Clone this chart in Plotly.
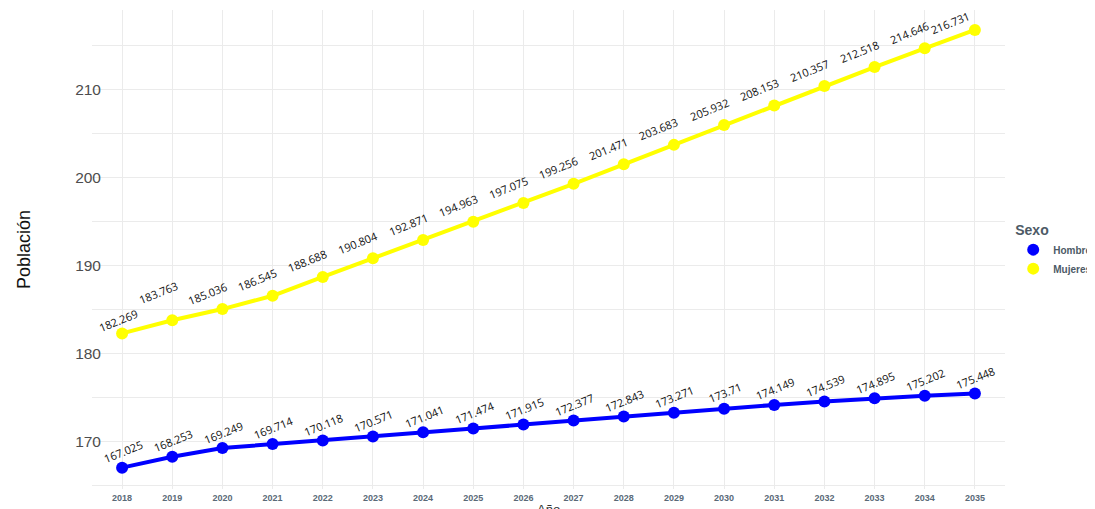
import plotly.graph_objects as go

years = list(range(2018, 2036))
hombres = [167.025, 168.253, 169.249, 169.714, 170.118, 170.571, 171.041, 171.474, 171.915,
           172.377, 172.843, 173.271, 173.71, 174.149, 174.539, 174.895, 175.202, 175.448]
mujeres = [182.269, 183.763, 185.036, 186.545, 188.688, 190.804, 192.871, 194.963, 197.075,
           199.256, 201.471, 203.683, 205.932, 208.153, 210.357, 212.518, 214.646, 216.731]
series = [("Hombres", hombres, "#0000FF"), ("Mujeres", mujeres, "#FFFF00")]
# label nudges (px) per series, like a repel layout
nudge = {"Hombres": (1, 16), "Mujeres": (-15, 16)}

fig = go.Figure()
annotations = []
for name, vals, col in series:
    fig.add_trace(go.Scatter(
        x=years, y=vals, name=name, mode="lines+markers",
        line=dict(color=col, width=4),
        marker=dict(color=col, size=12),
        showlegend=False,
    ))
    dx, dy = nudge[name]
    for i, (x, v) in enumerate(zip(years, vals)):
        sx, sy = dx, dy
        if name == "Mujeres" and i == 0:
            sx, sy = -4, 13
        if name == "Mujeres" and i == 1:
            sx, sy = -14, 28
        if name == "Mujeres" and i == len(vals) - 1:
            sx, sy = -24, 7
        annotations.append(dict(
            x=x, y=v, text=str(v), showarrow=False, textangle=-22,
            xanchor="center", yanchor="middle",
            yshift=sy, xshift=sx,
            font=dict(family="Open Sans", size=11, color="#111111"),
        ))
for name, vals, col in series:
    fig.add_trace(go.Scatter(
        x=[None], y=[None], name=f"<b>{name}</b>", mode="markers",
        marker=dict(color=col, size=14),
    ))

annotations.append(dict(
    xref="paper", yref="paper", x=0.5, y=0, yshift=-11, xanchor="center", yanchor="top",
    text="Año", showarrow=False,
    font=dict(family="Liberation Sans", size=13, color="#333333"),
))

grid = "#EBEBEB"
fig.update_layout(
    width=1140, height=501,
    margin=dict(l=84, r=143, t=2, b=20),
    paper_bgcolor="white", plot_bgcolor="white",
    annotations=annotations,
    showlegend=True,
    legend=dict(
        x=1.009, y=0.568, xanchor="left", yanchor="top",
        title=dict(text="<b>Sexo</b>", font=dict(family="Liberation Sans", size=14, color="#4d5a66")),
        font=dict(family="Liberation Sans", size=10, color="#4d5a66"),
        itemsizing="constant", tracegroupgap=0,
    ),
    xaxis=dict(
        range=[2017.4, 2035.6], tickmode="array", tickvals=years,
        ticktext=[f"<b>{y}</b>" for y in years],
        tickfont=dict(family="Liberation Sans", size=9, color="#5a6a78"),
        showgrid=True, gridcolor=grid, gridwidth=1, zeroline=False, showline=False,
        ticks="", automargin=False, ticklabelstandoff=2,
    ),
    yaxis=dict(
        range=[164.6, 219.0], tickvals=[170, 180, 190, 200, 210],
        tickfont=dict(family="Liberation Sans", size=15.5, color="#4d4d4d"),
        showgrid=True, gridcolor=grid, gridwidth=1, zeroline=False, showline=False,
        ticks="", ticklabelstandoff=-10, automargin=False,
        minor=dict(tickvals=[165, 175, 185, 195, 205, 215], showgrid=True, gridcolor=grid, gridwidth=1),
        title=dict(text="Población", font=dict(family="Liberation Sans", size=18, color="#111111"), standoff=39),
    ),
)

fig.write_html("out.html")
